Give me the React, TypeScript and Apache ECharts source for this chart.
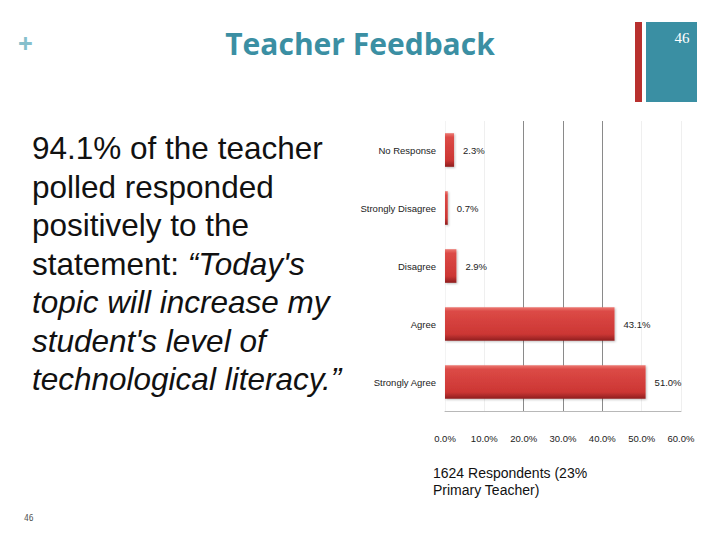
import React, { useEffect, useRef } from "react";
import * as echarts from "echarts";

const categories = ["No Response", "Strongly Disagree", "Disagree", "Agree", "Strongly Agree"];
const values = [2.3, 0.7, 2.9, 43.1, 51.0];
const xTicks = [0, 10, 20, 30, 40, 50, 60];

const bodyLines = [
  "94.1% of the teacher",
  "polled responded",
  "positively to the",
];
const bodyLine4Plain = "statement: ";
const bodyLine4Italic = "\u201cToday's";
const italicLines = [
  "topic will increase my",
  "student's level of",
  "technological literacy.\u201d",
];
const footnoteLines = ["1624 Respondents (23%", "Primary Teacher)"];

export default function App() {
  const ref = useRef<HTMLDivElement>(null);
  useEffect(() => {
    if (!ref.current) return;
    const chart = echarts.init(ref.current, undefined, { renderer: "svg" });
    const barGradient = new echarts.graphic.LinearGradient(0, 0, 0, 1, [
      { offset: 0, color: "#ec7a74" },
      { offset: 0.12, color: "#dc4a46" },
      { offset: 0.8, color: "#cc3634" },
      { offset: 1, color: "#8e1f1f" },
    ]);
    const textFont = "'Liberation Sans', Arial, sans-serif";
    const fs = 31.5;
    const bodyGraphics: any[] = [];
    const y0 = 150;
    const lh = 38.5;
    const topOff = 18;
    bodyLines.forEach((t, i) => {
      bodyGraphics.push({
        type: "text",
        left: 32,
        top: y0 + i * lh - topOff,
        style: { text: t, fontSize: fs, fontFamily: textFont, fill: "#111" },
      });
    });
    bodyGraphics.push({
      type: "text",
      left: 32,
      top: y0 + 3 * lh - topOff,
      style: {
        text: bodyLine4Plain + "{i|" + bodyLine4Italic + "}",
        fontSize: fs,
        fontFamily: textFont,
        fill: "#111",
        rich: { i: { fontSize: fs, fontFamily: textFont, fontStyle: "italic", fill: "#111" } },
      },
    });
    italicLines.forEach((t, i) => {
      bodyGraphics.push({
        type: "text",
        left: 32,
        top: y0 + (4 + i) * lh - topOff,
        style: { text: t, fontSize: fs, fontFamily: textFont, fontStyle: "italic", fill: "#111" },
      });
    });
    footnoteLines.forEach((t, i) => {
      bodyGraphics.push({
        type: "text",
        left: 433,
        top: 466 + i * 17,
        style: { text: t, fontSize: 14, fontFamily: textFont, fill: "#111" },
      });
    });

    const narrow = "'Liberation Sans', Arial, sans-serif";
    const small = 9.5;
    chart.setOption({
      animation: false,
      backgroundColor: "#ffffff",
      grid: { left: 445, right: 39, top: 121, bottom: 129, containLabel: false },
      xAxis: {
        type: "value",
        min: xTicks[0],
        max: xTicks[xTicks.length - 1],
        interval: 10,
        axisLine: { show: true, lineStyle: { color: "#b8b8b8", width: 1 } },
        axisTick: { show: false },
        axisLabel: {
          margin: 22,
          fontSize: small,
          fontFamily: narrow,
          color: "#222",
          formatter: (v: number) => v.toFixed(1) + "%",
        },
        splitLine: {
          show: true,
          lineStyle: {
            color: ["#f3f3f3", "#efefef", "#8a8a8a", "#8a8a8a", "#8a8a8a", "#efefef", "#efefef"],
            width: 1,
          },
        },
      },
      yAxis: {
        type: "category",
        data: categories,
        inverse: true,
        axisLine: { show: false },
        axisTick: { show: false },
        axisLabel: { margin: 9, fontSize: small, fontFamily: narrow, color: "#222" },
      },
      series: [
        {
          type: "bar",
          data: values,
          barWidth: "58%",
          itemStyle: {
            color: barGradient,
            shadowColor: "rgba(0,0,0,0.25)",
            shadowBlur: 2,
            shadowOffsetX: 1,
            shadowOffsetY: 1,
          },
          label: {
            show: true,
            position: "right",
            distance: 9,
            fontSize: small,
            fontFamily: narrow,
            color: "#222",
            formatter: (p: any) => Number(p.value).toFixed(1) + "%",
          },
        },
      ],
      graphic: [
        {
          type: "text",
          left: 18,
          top: 30,
          style: { text: "+", fontSize: 26, fontWeight: "bold", fontFamily: "'Open Sans', sans-serif", fill: "#86bfcc" },
        },
        {
          type: "text",
          x: 360,
          y: 43,
          style: {
            text: "Teacher Feedback",
            fontSize: 30,
            fontWeight: "bold",
            fontFamily: "'Open Sans', sans-serif",
            fill: "#3b8fa3",
            align: "center",
            verticalAlign: "middle",
          },
        },
        { type: "rect", shape: { x: 635, y: 22, width: 7, height: 80 }, style: { fill: "#b8302e" } },
        { type: "rect", shape: { x: 646, y: 22, width: 51, height: 80 }, style: { fill: "#3a8fa3" } },
        {
          type: "text",
          x: 682,
          y: 38,
          style: {
            text: "46",
            fontSize: 15,
            fontFamily: "'Liberation Serif', serif",
            fill: "#ffffff",
            align: "center",
            verticalAlign: "middle",
          },
        },
        {
          type: "text",
          left: 24,
          top: 514,
          style: { text: "46", fontSize: 8, fontFamily: "'DejaVu Sans Mono', monospace", fill: "#555" },
        },
        ...bodyGraphics,
      ],
    });
    return () => chart.dispose();
  }, []);
  return <div ref={ref} style={{ width: 720, height: 540, position: "fixed", left: 0, top: 0 }} />;
}
